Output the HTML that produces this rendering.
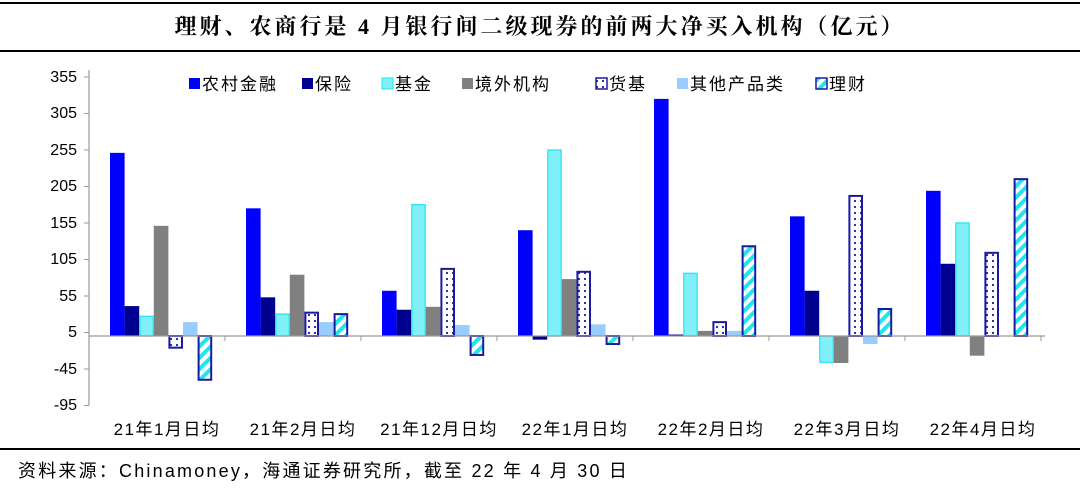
<!DOCTYPE html>
<html><head><meta charset="utf-8"><style>
body{margin:0;background:#fff;width:1080px;height:487px;overflow:hidden}
svg text{font-family:"Liberation Sans","Noto Sans CJK SC",sans-serif}
</style></head><body>
<svg id="s" width="1080" height="487" xmlns="http://www.w3.org/2000/svg">
<defs>
<pattern id="dots" width="6" height="6" patternUnits="userSpaceOnUse"><rect width="6" height="6" fill="#fff"/><circle cx="3" cy="3" r="1.1" fill="#1a1aa0"/></pattern>
<pattern id="hatch" width="8" height="8" patternUnits="userSpaceOnUse" patternTransform="rotate(-45)"><rect width="8" height="8" fill="#fff"/><rect width="8" height="4" fill="#1ee6f0"/></pattern>
</defs>
<line x1="0" y1="3" x2="1080" y2="3" stroke="#000" stroke-width="2"/>
<line x1="0" y1="51" x2="1080" y2="51" stroke="#000" stroke-width="2"/>
<line x1="0" y1="449" x2="1080" y2="449" stroke="#000" stroke-width="2"/>
<text x="540" y="34" text-anchor="middle" font-size="22" font-weight="bold" letter-spacing="3" style="font-family:'Liberation Serif','Noto Serif CJK SC',serif">理财、农商行是 4 月银行间二级现券的前两大净买入机构（亿元）</text>
<g font-size="16" text-anchor="end" fill="#000">
<text x="77" y="82">355</text><text x="77" y="118">305</text><text x="77" y="155">255</text><text x="77" y="191">205</text><text x="77" y="228">155</text><text x="77" y="264">105</text><text x="77" y="301">55</text><text x="77" y="337">5</text><text x="77" y="374">-45</text><text x="77" y="410">-95</text>
</g>
<g font-size="17" text-anchor="middle" letter-spacing="1.5">
<text x="167" y="435">21年1月日均</text><text x="303" y="435">21年2月日均</text><text x="439" y="435">21年12月日均</text><text x="575" y="435">22年1月日均</text><text x="711" y="435">22年2月日均</text><text x="847" y="435">22年3月日均</text><text x="983" y="435">22年4月日均</text>
</g>
<text x="18" y="477" font-size="18" letter-spacing="2.2">资料来源：Chinamoney，海通证券研究所，截至 22 年 4 月 30 日</text>
<g font-size="17" letter-spacing="2" style="font-family:'Liberation Serif','Noto Serif CJK SC',serif">
<rect x="189" y="78" width="11" height="11" fill="#0000ff"/><text x="202" y="90">农村金融</text>
<rect x="302" y="78" width="11" height="11" fill="#000090"/><text x="315" y="90">保险</text>
<rect x="382" y="78" width="11" height="11" fill="#80f0f8" stroke="#1ee6f0"/><text x="395" y="90">基金</text>
<rect x="462" y="78" width="11" height="11" fill="#808080"/><text x="475" y="90">境外机构</text>
<rect x="596" y="78" width="11" height="11" fill="url(#dots)" stroke="#1a1aa0" stroke-width="1.5"/><text x="609" y="90">货基</text>
<rect x="677" y="78" width="11" height="11" fill="#99ccff"/><text x="690" y="90">其他产品类</text>
<rect x="816" y="78" width="11" height="11" fill="url(#hatch)" stroke="#1a1aa0" stroke-width="1.5"/><text x="829" y="90">理财</text>
</g>
<g id="bars"></g>
<g stroke="#999" stroke-width="1.2">
<line x1="89" y1="70" x2="89" y2="405"/>
<line x1="89" y1="336" x2="1045" y2="336"/>
</g>
<g id="ticks" stroke="#999"></g>
</svg>
<script>
var d=[[251,41,27,151,-16,19,-60],[175,53,30,84,32,19,30],[62,36,180,40,92,15,-26],[145,-5,255,78,88,16,-11],[325,2,86,7,19,7,123],[164,62,-36,-37,192,-11,37],[199,99,155,-27,114,0,215]];
var st=[['#0000ff','none'],['#000090','none'],['#80f0f8','#1ee6f0'],['#808080','none'],['url(#dots)','#1a1aa0'],['#99ccff','none'],['url(#hatch)','#1a1aa0']];
var k=0.7296,z=336,h='',t='';
for(var g=0;g<7;g++){var x0=89+g*136+21;
for(var i=0;i<7;i++){var v=d[g][i];if(!v)continue;var x=x0+i*14.6,y=v>0?z-v*k:z,hh=Math.abs(v)*k;
var sw=st[i][1]=='none'?0:(i>=4?2:1.2);
h+='<rect x="'+(x+sw/2)+'" y="'+y+'" width="'+(14.6-sw)+'" height="'+hh+'" fill="'+st[i][0]+'" stroke="'+st[i][1]+'" stroke-width="'+sw+'"/>';}
t+='<line x1="'+(89+(g+1)*136)+'" y1="336" x2="'+(89+(g+1)*136)+'" y2="341"/>';}
for(var j=0;j<10;j++){var yy=77+j*36.5;t+='<line x1="84" y1="'+yy+'" x2="89" y2="'+yy+'"/>';}
document.getElementById('bars').innerHTML=h;document.getElementById('ticks').innerHTML=t;
</script>
</body></html>
